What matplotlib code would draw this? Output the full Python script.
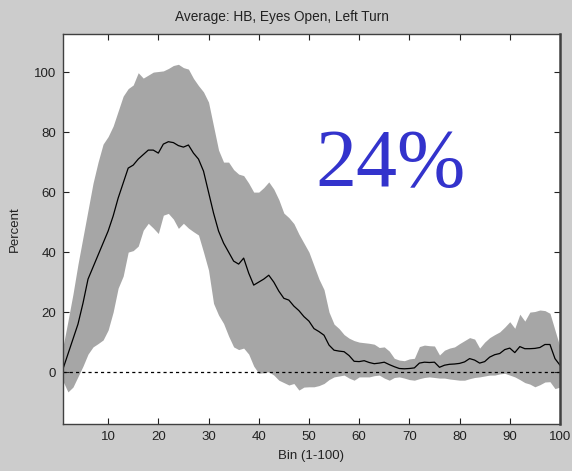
import numpy as np
import matplotlib
matplotlib.use("Agg")
import matplotlib.pyplot as plt

# bin index 1..100
bins = np.arange(1, 101)

# mean percentage per bin
mean_pct = [
    1, 6, 11, 16, 23, 31, 35, 39, 43, 47,
    52, 58, 63, 68, 69, 71, 72.5, 74, 74, 73,
    76, 76.8, 76.5, 75.5, 75, 75.7, 73, 71, 67, 60,
    53, 47, 43, 40, 37, 36, 38, 33, 29, 30,
    31, 32.3, 30, 27, 24.6, 24, 22, 20.5, 18.5, 17,
    14.5, 13.5, 12.3, 9, 7.3, 7, 6.8, 5.5, 3.6, 3.5,
    3.8, 3.2, 2.8, 3, 3.3, 2.5, 1.8, 1.2, 1.1, 1.2,
    1.4, 3, 3.3, 3.2, 3.3, 1.6, 2.3, 2.6, 2.7, 2.9,
    3.4, 4.5, 4, 3, 3.5, 5, 5.8, 6.2, 7.5, 8,
    6.5, 8.5, 7.8, 7.8, 7.9, 8.2, 9.2, 9.2, 4.5, 2.3,
]

# upper edge of the shaded band
upper_pct = [
    8.4, 17, 26, 36, 45, 54, 63, 70, 76, 78.5,
    82, 87, 92, 94.5, 95.7, 99.8, 98, 99, 100, 100.2,
    100.4, 101.2, 102.2, 102.6, 101.5, 101, 97.9, 95.5, 93.4, 90,
    82, 74, 70, 70, 67.5, 66, 65.5, 63, 60, 60,
    61.5, 63.4, 61, 57.5, 53, 51.5, 49.5, 46, 43, 40,
    35.5, 31, 27.5, 20, 16, 14.5, 12.5, 11.3, 10.5, 10,
    9.8, 9.6, 9.3, 8.2, 8.4, 7, 4.6, 4, 3.8, 4.4,
    4.6, 8.5, 9, 8.8, 8.7, 5.7, 7.3, 8, 8.4, 9.5,
    10.5, 11.5, 11, 8, 10, 11.5, 12.5, 13.4, 15, 16.8,
    14.6, 19.3, 17, 20, 20.2, 20.7, 20.5, 19.6, 14, 8.4,
]

# lower edge of the shaded band
lower_pct = [
    -3, -6.6, -5, -1.5, 2, 6, 8.4, 9.5, 10.7, 14,
    20, 28, 32, 40, 40.5, 42, 47.3, 49.6, 48, 46.2,
    52.3, 52.9, 51, 47.9, 49.6, 48, 46.8, 45.7, 40, 34,
    22.9, 19, 16.2, 12, 8.4, 7.5, 8, 6, 2, -0.4,
    -0.2, 0.1, -1, -2.7, -3.5, -4.3, -3.8, -6, -5, -4.9,
    -4.9, -4.5, -3.8, -2.5, -1.6, -1.3, -1, -2, -2.7, -1.6,
    -1.6, -1.6, -1.2, -1, -2, -2.7, -1.8, -1.6, -2, -2.5,
    -2.7, -2.2, -1.8, -1.6, -1.8, -2, -2, -2.3, -2.5, -2.7,
    -2.7, -2.2, -1.8, -1.6, -1.3, -1, -1, -0.6, -0.4, -1,
    -1.6, -2.5, -3.5, -4, -4.9, -4.2, -3.3, -3.2, -5.5, -5,
]

title = "Average: HB, Eyes Open, Left Turn"
big_label = "24%"

plt.rcParams["font.family"] = ["Liberation Sans", "DejaVu Sans"]

fig = plt.figure(figsize=(5.72, 4.71), dpi=100, facecolor="#cccccc")
ax = fig.add_axes([0.110, 0.0998, 0.869, 0.828])
ax.set_facecolor("white")

ax.fill_between(bins, lower_pct, upper_pct, color="#a6a6a6", linewidth=0)
ax.plot(bins, mean_pct, color="black", linewidth=0.9)
ax.axhline(0, color="black", linewidth=0.9, linestyle=(0, (2.5, 2.5)))

ax.set_xlim(1, 100)
ax.set_ylim(-17.3, 112.7)
ax.set_xticks(range(10, 101, 10))
ax.set_yticks(range(0, 101, 20))
ax.tick_params(direction="in", length=4, width=0.8, top=True, right=True,
               labelsize=9.5, colors="#222222", pad=5)
for side in ax.spines.values():
    side.set_color("#404040")
    side.set_linewidth(1.0)
ax.spines["right"].set_linewidth(1.8)

ax.set_xlabel("Bin (1-100)", fontsize=9.5, color="#222222", labelpad=5)
ax.set_ylabel("Percent", fontsize=9.5, color="#222222", labelpad=9)
fig.text(282 / 572, 1 - 17 / 471, title, ha="center", va="center",
         fontsize=9.8, color="#222222")

ax.text(0.507, 0.61, big_label, transform=ax.transAxes, ha="left",
        va="baseline", fontsize=59, color="#3333cc",
        family=["Liberation Serif", "DejaVu Serif"])

fig.savefig("out.png", dpi=100, facecolor=fig.get_facecolor())
